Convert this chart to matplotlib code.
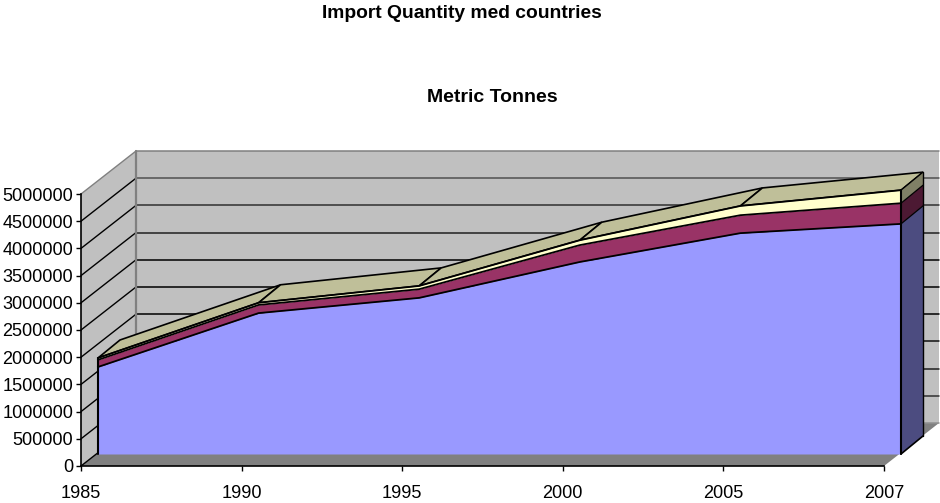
# Import quantity, stacked area drawn with a fake 3D box

import numpy as np
import matplotlib
matplotlib.use("Agg")
import matplotlib.pyplot as plt
from matplotlib.transforms import Affine2D

plt.rcParams['font.family'] = ['Liberation Sans', 'DejaVu Sans']

years = ["1985", "1990", "1995", "2000", "2005", "2007"]
blue_vals = [1600000, 2590000, 2870000, 3530000, 4060000, 4230000]
maroon_vals = [130000, 150000, 160000, 310000, 330000, 380000]
yellow_vals = [35000, 40000, 60000, 90000, 170000, 240000]
y_ticks = [0, 500000, 1000000, 1500000, 2000000, 2500000, 3000000, 3500000,
           4000000, 4500000, 5000000]

grid_colors = ["#909090", "#303030", "#202020", "#101010", "#000000", "#000000",
               "#000000", "#202020", "#303030", "#505050", "#808080"]

fig = plt.figure(figsize=(9.4, 5.03), dpi=100)
ax = fig.add_axes([81/940, (503-466)/503, 803/940, 272/503])
ax.patch.set_visible(False)
x = np.arange(len(years))
ax.set_xlim(0, len(years)-1)
ax.set_ylim(0, 5000000)


def shifted(dx, dy):
    # data coordinates pushed back in depth, by screen pixels
    return ax.transData + Affine2D().translate(dx, dy)


def poly(xs, ys, color, trans=None, z=1):
    ax.fill(xs, ys, color=color, lw=0, clip_on=False, zorder=z,
            transform=trans if trans is not None else ax.transData)


def seg(p0, p1, color="black", lw=1.0, z=3):
    # p0, p1 are (x, value, dx, dy)
    a = shifted(p0[2], p0[3]).transform((p0[0], p0[1]))
    b = shifted(p1[2], p1[3]).transform((p1[0], p1[1]))
    ax.plot([a[0], b[0]], [a[1], b[1]], color=color, lw=lw, clip_on=False,
            zorder=z, transform=None, solid_capstyle="round")


wall = (55, 43)
front = (17, 12)
back = (39, 30)
xmax = x[-1]

# walls and floor
back_wall = shifted(*wall)
poly([0, xmax, xmax, 0], [0, 0, 5000000, 5000000], "#c0c0c0", back_wall)
left = ax.transData
pts = [left.transform((0, 0)), back_wall.transform((0, 0)),
       back_wall.transform((0, 5000000)), left.transform((0, 5000000))]
ax.fill(*zip(*pts), color="#c0c0c0", lw=0, clip_on=False, zorder=1, transform=None)
pts = [left.transform((0, 0)), left.transform((xmax, 0)),
       back_wall.transform((xmax, 0)), back_wall.transform((0, 0))]
ax.fill(*zip(*pts), color="#808080", lw=0, clip_on=False, zorder=1, transform=None)

for v, c in zip(y_ticks, grid_colors):
    seg((0, v, *wall), (xmax, v, *wall), color=c, lw=1.1, z=2)
    seg((0, v, 0, 0), (0, v, *wall), color="#808080" if v == 5000000 else "black", lw=1.0, z=2)
seg((0, 0, *wall), (0, 5000000, *wall), color="#808080", lw=1.6, z=2)

# stacked layers
blue_top = np.array(blue_vals)
maroon_top = blue_top + np.array(maroon_vals)
yellow_top = maroon_top + np.array(yellow_vals)

front_t = shifted(*front)
back_t = shifted(*back)


def side_face(v0, v1, color):
    p = [front_t.transform((xmax, v0)), back_t.transform((xmax, v0)),
         back_t.transform((xmax, v1)), front_t.transform((xmax, v1))]
    ax.fill(*zip(*p), color=color, lw=0, clip_on=False, zorder=4, transform=None)


# top surface, one panel per category interval
for i in range(len(x)-1):
    p = [front_t.transform((x[i], yellow_top[i])), front_t.transform((x[i+1], yellow_top[i+1])),
         back_t.transform((x[i+1], yellow_top[i+1])), back_t.transform((x[i], yellow_top[i]))]
    ax.fill(*zip(*p), facecolor="#bfbf99", edgecolor="black", lw=1.2, clip_on=False,
            zorder=4, transform=None)

side_face(0, blue_top[-1], "#4c4c80")
side_face(blue_top[-1], maroon_top[-1], "#4c1933")
side_face(maroon_top[-1], yellow_top[-1], "#808066")

zeros = np.zeros(len(x))
ax.fill_between(x, zeros, blue_top, color="#9999ff", lw=0, clip_on=False, zorder=5, transform=front_t)
ax.fill_between(x, blue_top, maroon_top, color="#993366", lw=0, clip_on=False, zorder=5, transform=front_t)
ax.fill_between(x, maroon_top, yellow_top, color="#ffffcc", lw=0, clip_on=False, zorder=5, transform=front_t)
for top in (blue_top, maroon_top, yellow_top):
    ax.plot(x, top, color="black", lw=1.3, clip_on=False, zorder=6, transform=front_t)

# box outlines of the area
seg((0, 0, *front), (0, yellow_top[0], *front), lw=1.5, z=6)
seg((xmax, 0, *front), (xmax, yellow_top[-1], *front), lw=1.5, z=6)
seg((xmax, 0, *back), (xmax, yellow_top[-1], *back), lw=1.0, z=6)
seg((xmax, 0, *front), (xmax, 0, *back), lw=1.2, z=6)
for top in (blue_top, maroon_top, yellow_top):
    seg((xmax, top[-1], *front), (xmax, top[-1], *back), lw=0.9, z=6)

# axes
for s in ("top", "right"):
    ax.spines[s].set_visible(False)
for s in ("left", "bottom"):
    ax.spines[s].set_linewidth(1.2)
    ax.spines[s].set_zorder(7)
ax.set_xticks(x, years)
ax.set_yticks(y_ticks, [str(v) for v in y_ticks])
ax.tick_params(axis="y", length=3.6, width=1, pad=2, labelsize=13.1, colors="black")
ax.tick_params(axis="x", length=3.6, width=1, pad=10.2, labelsize=13.1, colors="black")

fig.text(462/940, 1-13/503, "Import Quantity med countries", fontsize=13.9, fontweight="bold",
         ha="center", va="center")
fig.text(492.5/940, 1-97/503, "Metric Tonnes", fontsize=14, fontweight="bold",
         ha="center", va="center")

fig.savefig("out.png", dpi=100)
